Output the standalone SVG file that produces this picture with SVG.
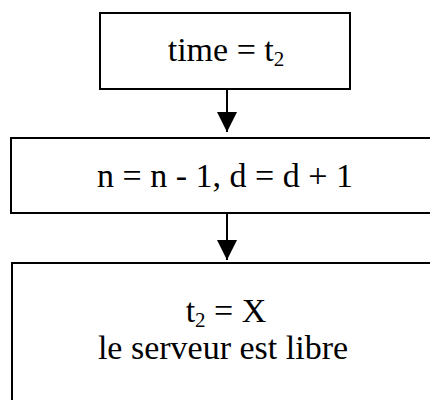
<svg xmlns="http://www.w3.org/2000/svg" width="430" height="400" viewBox="0 0 430 400">
<style>
.box{fill:#fff;stroke:#000;stroke-width:2}
.t{font-family:"Liberation Serif","Times New Roman",serif;font-size:34px;fill:#000;text-anchor:middle}
.sub{font-size:21px}
.c{stroke:#000;stroke-width:2;fill:none}
</style>
<defs>
<marker id="arr" markerUnits="userSpaceOnUse" markerWidth="20" markerHeight="20" refX="20" refY="10" orient="auto">
<path d="M0,0 L20,10 L0,20 Z" fill="#000"/>
</marker>
</defs>
<g id="connectors">
<line class="c" x1="227" y1="89" x2="227" y2="132" marker-end="url(#arr)"/>
<line class="c" x1="227" y1="213" x2="227" y2="260" marker-end="url(#arr)"/>
</g>
<g id="node1">
<rect class="box" x="100" y="13" width="250" height="76"/>
<text class="t" x="226" y="61">time = t<tspan class="sub" dy="5">2</tspan></text>
</g>
<g id="node2">
<rect class="box" x="11" y="138" width="430" height="75"/>
<text class="t" x="225" y="187">n = n - 1, d = d + 1</text>
</g>
<g id="node3">
<rect class="box" x="12" y="263" width="430" height="150"/>
<text class="t" x="226" y="322">t<tspan class="sub" dy="5">2</tspan><tspan dy="-5"> = X</tspan></text>
<text class="t" x="223" y="359">le serveur est libre</text>
</g>
</svg>
